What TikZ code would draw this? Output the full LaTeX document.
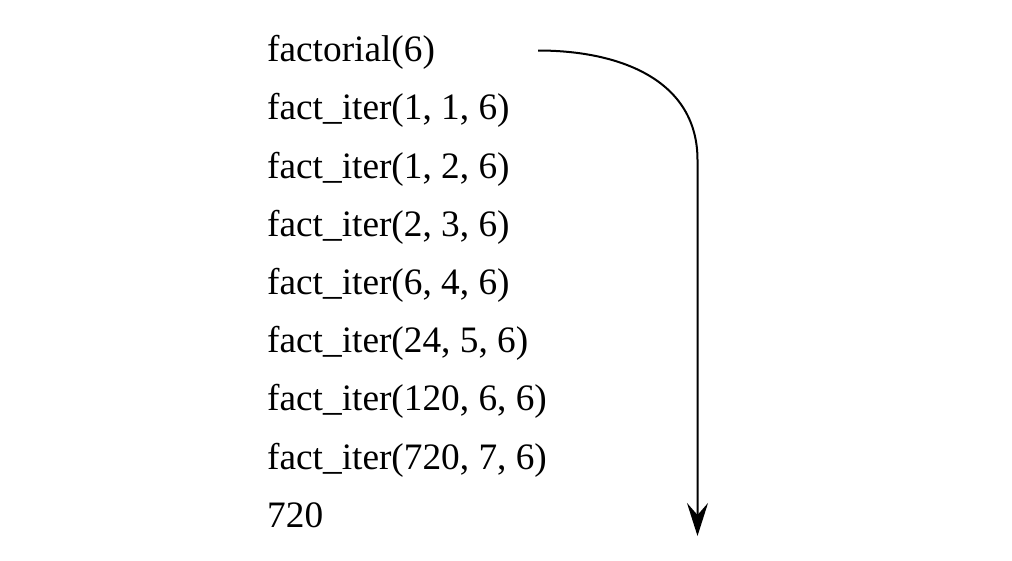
\documentclass[tikz,border=0pt]{standalone}
\usepackage{fontspec}
\setmainfont{Liberation Serif}
\usetikzlibrary{arrows.meta}
\begin{document}
\begin{tikzpicture}[x=1pt,y=-1pt,
  rowtext/.style={anchor=base west,inner sep=0pt,font=\fontsize{37.3}{40}\selectfont},
  flow/.style={line width=2pt,-{Stealth[length=33pt,width=21pt,inset=12pt]}}]
\useasboundingbox (0,0) rectangle (1012,560);
\node[rowtext] (r0) at (267,61.7) {factorial(6)};
\node[rowtext] (r1) at (267,119.9) {fact\_iter(1, 1, 6)};
\node[rowtext] (r2) at (267,178.1) {fact\_iter(1, 2, 6)};
\node[rowtext] (r3) at (267,236.3) {fact\_iter(2, 3, 6)};
\node[rowtext] (r4) at (267,294.5) {fact\_iter(6, 4, 6)};
\node[rowtext] (r5) at (267,352.7) {fact\_iter(24, 5, 6)};
\node[rowtext] (r6) at (267,410.9) {fact\_iter(120, 6, 6)};
\node[rowtext] (r7) at (267,469.1) {fact\_iter(720, 7, 6)};
\node[rowtext] (r8) at (267,527.3) {720};
\coordinate (s) at (538,50.5);
\coordinate (k) at (697.5,160);
\coordinate (e) at (697.5,536);
\draw[flow] (s) .. controls (620,50.5) and (697.5,80) .. (k) -- (e);
\end{tikzpicture}
\end{document}
